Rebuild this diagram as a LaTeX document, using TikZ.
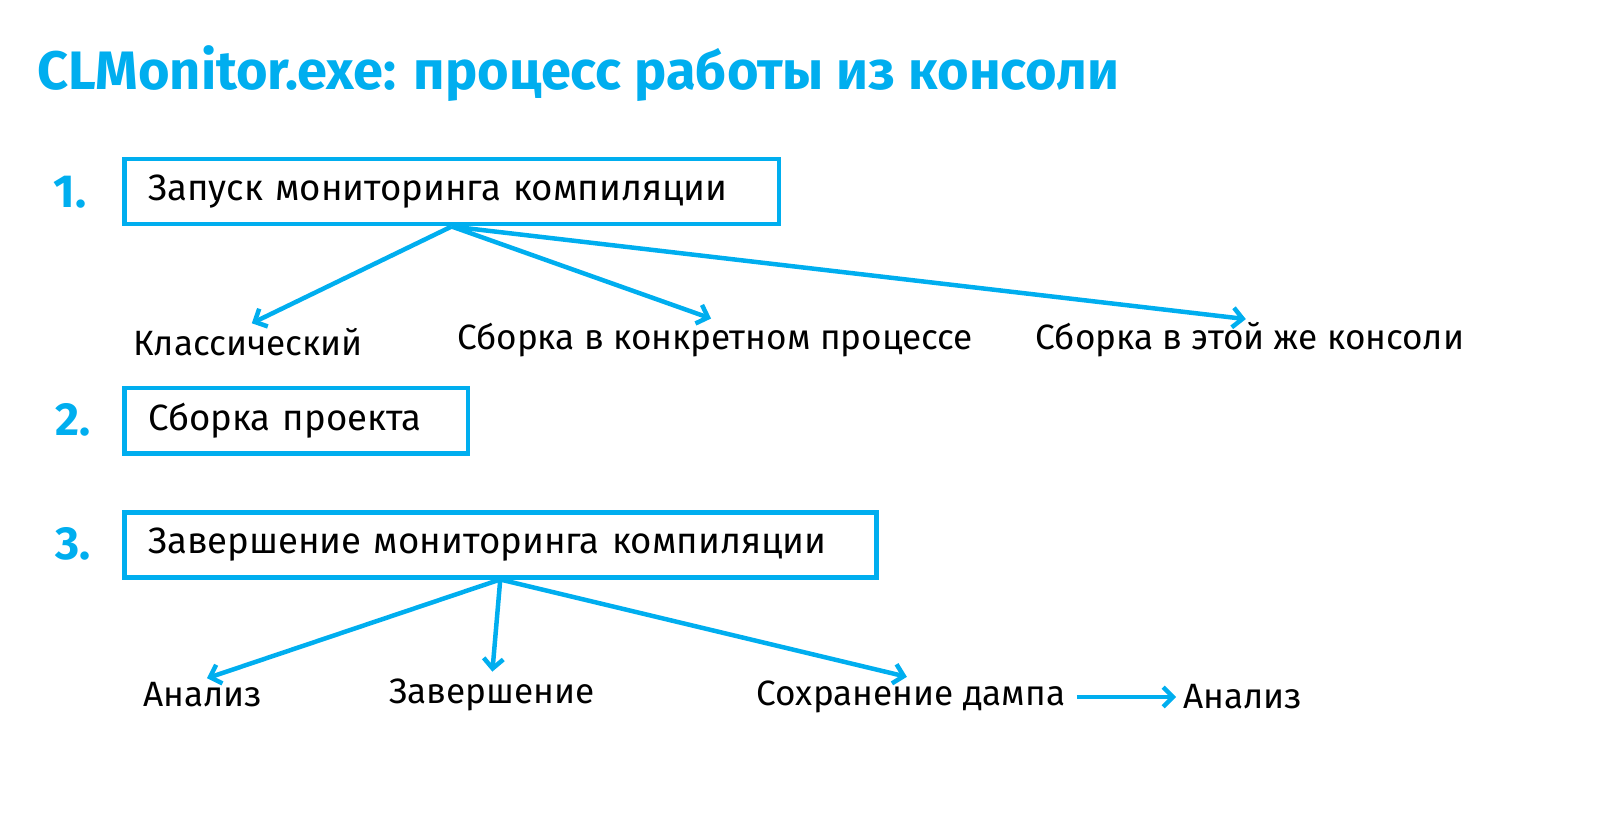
\documentclass[tikz,border=0pt]{standalone}
\usepackage{fontspec}
\setmainfont{Fira Sans}
\usetikzlibrary{arrows.meta}
\definecolor{clblue}{HTML}{00AEEF}
\tikzset{
  stepbox/.style={draw=clblue, line width=3.2pt, anchor=north west, minimum height=65*0.025cm, inner xsep=17pt, align=left, font=\fontsize{26}{30}\selectfont},
  stepnum/.style={text=clblue, font=\fontsize{33}{37}\selectfont\bfseries},
  leaf/.style={font=\fontsize{25}{29}\selectfont, inner sep=2pt},
  flow/.style={draw=clblue, line width=3.2pt, -{Straight Barb[length=7pt,width=14pt]}, shorten >=3pt},
}
\begin{document}
\begin{tikzpicture}[x=0.025cm, y=-0.025cm]
    \useasboundingbox (0,0) rectangle (1600,820);
    \node[anchor=base west, text=clblue, font=\fontsize{38.5}{42}\selectfont\bfseries, inner sep=0] (title) at (37,90) {CLMonitor.exe: процесс работы из консоли};
    % steps
    \node[stepbox, text width=15.17cm] (s1) at (122,157) {Запуск мониторинга компиляции};
    \node[stepbox, text width=7.4cm] (s2) at (122,386) {Сборка проекта};
    \node[stepbox, text width=17.6cm] (s3) at (122,510) {Завершение мониторинга компиляции};
    \node[stepnum] (n1) at (70,192) {1.};
    \node[stepnum] (n2) at (73,420) {2.};
    \node[stepnum] (n3) at (73,544) {3.};
    % first step
    \node[leaf] (classic) at (248,342) {Классический};
    \node[leaf] (proc) at (715,340) {Сборка в конкретном процессе};
    \node[leaf] (cons) at (1250,340) {Сборка в этой же консоли};
    \draw[flow] (s1.south) -- (classic.north);
    \draw[flow] (s1.south) -- (proc.north);
    \draw[flow] (s1.south) -- (cons.north);
    % third step
    \node[leaf] (an1) at (203,695) {Анализ};
    \node[leaf] (fin) at (492,695) {Завершение};
    \node[leaf] (dump) at (911,697) {Сохранение дампа};
    \node[leaf] (an2) at (1243,697) {Анализ};
    \draw[flow] (s3.south) -- (an1.north);
    \draw[flow] (s3.south) -- (fin.north);
    \draw[flow] (s3.south) -- (dump.north);
    \draw[flow, shorten <=6pt] (dump.east) -- (an2.west);
\end{tikzpicture}
\end{document}
